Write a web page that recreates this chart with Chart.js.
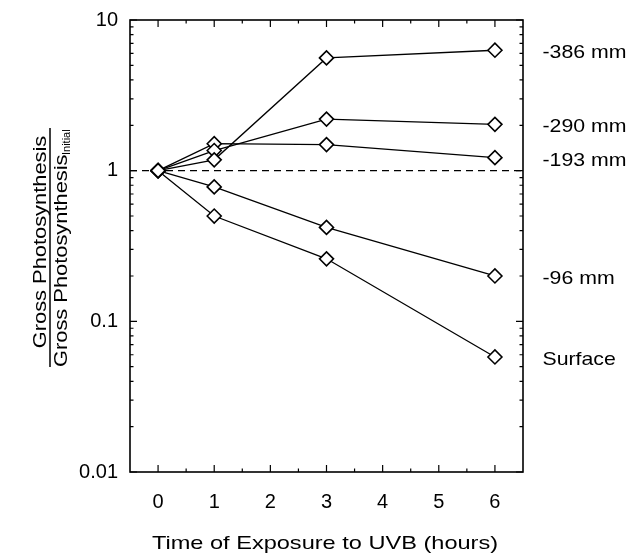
<!DOCTYPE html>
<html>
<head>
<meta charset="utf-8">
<script src="https://cdn.jsdelivr.net/npm/chart.js@4.4.0/dist/chart.umd.min.js"></script>
<style>
  html, body { margin: 0; padding: 0; background: #fff; }
  canvas { display: block; }
</style>
</head>
<body>
<canvas id="uvb-chart" width="639" height="555"></canvas>
<script>
// Exposure times (hours) and ratio of gross photosynthesis to initial
const hours = [0, 1, 3, 6];
const depth386 = [1, 1.18, 5.6, 6.3];
const depth290 = [1, 1.36, 2.2, 2.03];
const depth193 = [1, 1.51, 1.49, 1.22];
const depth96 = [1, 0.78, 0.42, 0.2];
const surface = [1, 0.5, 0.26, 0.058];
const seriesLabels = ['-386 mm', '-290 mm', '-193 mm', '-96 mm', 'Surface'];
const xTickValues = [0, 1, 2, 3, 4, 5, 6];
const yTickValues = [0.01, 0.1, 1, 10];
const baseline = [[-0.5, 1], [6.5, 1]];

const FONT = '"Liberation Sans", Arial, Helvetica, sans-serif';

function toPoints(values) {
    return hours.map((h, i) => ({ x: h, y: values[i] }));
}

function series(label, values) {
    return {
        label: label,
        data: toPoints(values),
        borderColor: '#000',
        borderWidth: 1.3,
        pointStyle: 'rectRot',
        pointRadius: 7,
        pointBorderWidth: 1.6,
        pointBackgroundColor: '#fff',
        pointBorderColor: '#000',
        tension: 0
    };
}

// draw text stretched horizontally
function wideText(ctx, text, x, y, sx, align, rotate) {
    ctx.save();
    ctx.translate(x, y);
    if (rotate) ctx.rotate(-Math.PI / 2);
    ctx.scale(sx, 1);
    ctx.textAlign = align;
    ctx.textBaseline = 'alphabetic';
    ctx.fillText(text, 0, 0);
    ctx.restore();
}

// frame, inward ticks, titles and series labels
const framePlugin = {
    id: 'framePlugin',
    afterDraw(chart) {
        const ctx = chart.ctx;
        const area = chart.chartArea;
        const xs = chart.scales.x;
        const ys = chart.scales.y;
        ctx.save();
        ctx.strokeStyle = '#000';
        ctx.lineWidth = 1.6;
        ctx.strokeRect(area.left, area.top, area.right - area.left, area.bottom - area.top);

        ctx.lineWidth = 1.2;
        ctx.beginPath();
        for (let v = 0; v <= 6; v += 0.5) {
            const px = xs.getPixelForValue(v);
            const len = Number.isInteger(v) ? 7 : 3.5;
            ctx.moveTo(px, area.bottom);
            ctx.lineTo(px, area.bottom - len);
            ctx.moveTo(px, area.top);
            ctx.lineTo(px, area.top + len);
        }
        for (let d = 0.01; d < 11; d *= 10) {
            for (let m = 1; m <= 9; m++) {
                const v = d * m;
                if (v > 10.0001) break;
                const py = ys.getPixelForValue(v);
                const len = m === 1 ? 7 : 3.5;
                ctx.moveTo(area.left, py);
                ctx.lineTo(area.left + len, py);
                ctx.moveTo(area.right, py);
                ctx.lineTo(area.right - len, py);
            }
        }
        ctx.stroke();

        ctx.fillStyle = '#000';
        // x title
        ctx.font = '19px ' + FONT;
        wideText(ctx, 'Time of Exposure to UVB (hours)', 325, 549, 1.24, 'center', false);

        // y title as a fraction
        wideText(ctx, 'Gross Photosynthesis', 46, 242, 1.15, 'center', true);
        ctx.lineWidth = 1.5;
        ctx.beginPath();
        ctx.moveTo(50, 128);
        ctx.lineTo(50, 367);
        ctx.stroke();
        wideText(ctx, 'Gross Photosynthesis', 67, 367, 1.15, 'left', true);
        ctx.font = '11px ' + FONT;
        wideText(ctx, 'Initial', 70, 155, 1.0, 'left', true);

        // series labels at the right
        ctx.font = '19px ' + FONT;
        chart.data.datasets.forEach((ds, i) => {
            if (i >= seriesLabels.length) return;
            const last = ds.data[ds.data.length - 1];
            const py = ys.getPixelForValue(last.y);
            wideText(ctx, seriesLabels[i], 542.5, py + 8, 1.12, 'left', false);
        });
        ctx.restore();
    }
};

window.addEventListener('DOMContentLoaded', () => {
    const ctx = document.getElementById('uvb-chart').getContext('2d');
    new Chart(ctx, {
        type: 'line',
        data: {
            datasets: [
                series(seriesLabels[0], depth386),
                series(seriesLabels[1], depth290),
                series(seriesLabels[2], depth193),
                series(seriesLabels[3], depth96),
                series(seriesLabels[4], surface),
                {
                    label: 'baseline',
                    data: baseline.map(p => ({ x: p[0], y: p[1] })),
                    borderColor: '#000',
                    borderWidth: 1.3,
                    borderDash: [7, 5],
                    pointRadius: 0
                }
            ]
        },
        options: {
            responsive: false,
            animation: false,
            layout: { padding: { top: 20, right: 116, left: 0, bottom: 0 } },
            plugins: {
                legend: { display: false },
                tooltip: { enabled: false }
            },
            scales: {
                x: {
                    type: 'linear',
                    min: -0.5,
                    max: 6.5,
                    grid: { display: false },
                    border: { display: false },
                    afterBuildTicks: (scale) => {
                        scale.ticks = xTickValues.map(v => ({ value: v }));
                    },
                    afterFit: (scale) => { scale.height = 83; },
                    ticks: {
                        padding: 10,
                        color: '#000',
                        font: { family: FONT, size: 20 },
                        maxRotation: 0,
                        callback: (v) => String(v)
                    }
                },
                y: {
                    type: 'logarithmic',
                    min: 0.01,
                    max: 10,
                    grid: { display: false },
                    border: { display: false },
                    afterBuildTicks: (scale) => {
                        scale.ticks = yTickValues.map(v => ({ value: v }));
                    },
                    afterFit: (scale) => { scale.width = 130; },
                    ticks: {
                        padding: 4,
                        color: '#000',
                        font: { family: FONT, size: 20 },
                        callback: (v) => String(v)
                    }
                }
            }
        },
        plugins: [framePlugin]
    });
});
</script>
</body>
</html>
